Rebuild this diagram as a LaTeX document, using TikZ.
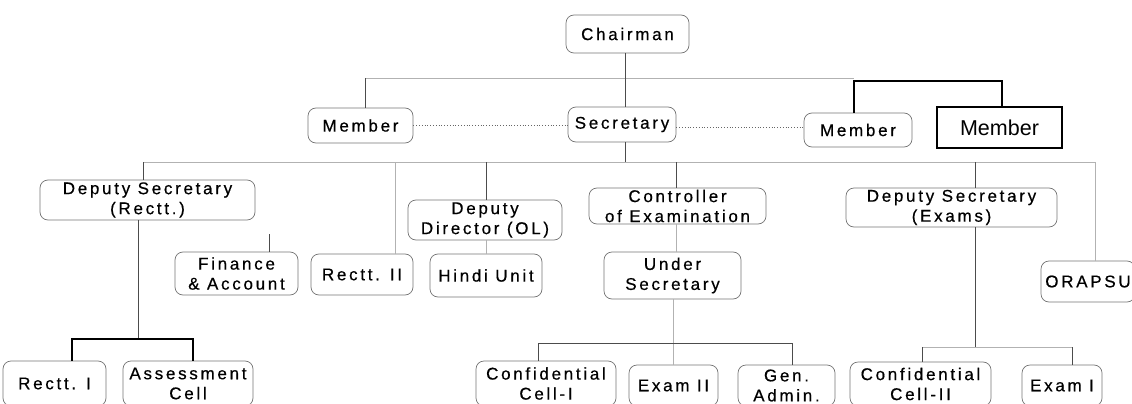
\documentclass[tikz,border=0pt]{standalone}
\usepackage{fontspec}
\setmainfont{Liberation Sans}
\newfontfamily\boxfont{Liberation Sans}[LetterSpace=16,FakeBold=0.5]
\begin{document}
\begin{tikzpicture}[x=1pt,y=-1pt,
  box/.style={draw=black!55, line width=0.7pt, rounded corners=8pt, inner sep=0pt, align=center,
    font=\boxfont\fontsize{17}{20}\selectfont, text=black},
  bigbox/.style={draw=black, line width=1.3pt, inner sep=0pt, font=\fontsize{21.5}{24}\selectfont},
  lightline/.style={draw=black!30, line width=0.8pt},
  darkline/.style={draw=black!70, line width=0.8pt},
  blackline/.style={draw=black, line width=1.2pt},
  dotline/.style={draw=black!60, line width=0.8pt, dotted}
]
\useasboundingbox (0,0) rectangle (1132,404);
% nodes
\node[box, minimum width=123pt, minimum height=38pt] (chair) at (627.5,34) {Chairman};
\node[box, minimum width=105pt, minimum height=35pt] (mem1) at (360.5,125.5) {Member};
\node[box, minimum width=108pt, minimum height=35pt] (sec) at (622,124.5) {Secretary};
\node[box, minimum width=108pt, minimum height=34pt] (mem2) at (858,130) {Member};
\node[bigbox, minimum width=125pt, minimum height=41pt] (mem3) at (999.5,127.5) {Member};
\node[box, minimum width=215pt, minimum height=40pt] (dsr) at (147.5,200) {Deputy Secretary\\(Rectt.)};
\node[box, minimum width=123pt, minimum height=43pt] (fin) at (236.5,273.5) {Finance\\\& Account};
\node[box, minimum width=102pt, minimum height=41pt] (r2) at (362,274.5) {Rectt. II};
\node[box, minimum width=154pt, minimum height=40pt] (ddol) at (485,220) {Deputy\\Director (OL)};
\node[box, minimum width=112pt, minimum height=43pt] (hindi) at (486,275.5) {Hindi Unit};
\node[box, minimum width=177pt, minimum height=36pt] (coe) at (677.5,206) {Controller\\of Examination};
\node[box, minimum width=137pt, minimum height=47pt] (us) at (672.5,275.5) {Under\\Secretary};
\node[box, minimum width=211pt, minimum height=39pt] (dse) at (951.5,207.5) {Deputy Secretary\\(Exams)};
\node[box, minimum width=94pt, minimum height=41pt] (orapsu) at (1088,281.5) {ORAPSU};
\node[box, minimum width=103pt, minimum height=45pt] (r1) at (54.5,383.5) {Rectt. I};
\node[box, minimum width=130pt, minimum height=45pt] (ac) at (188,383.5) {Assessment\\Cell};
\node[box, minimum width=140pt, minimum height=45pt] (cc1) at (546,383.5) {Confidential\\Cell-I};
\node[box, minimum width=89pt, minimum height=41pt] (e2) at (673.5,385.5) {Exam II};
\node[box, minimum width=97pt, minimum height=41pt] (ga) at (786.5,385.5) {Gen.\\Admin.};
\node[box, minimum width=141pt, minimum height=44pt] (cc2) at (920.5,384) {Confidential\\Cell-II};
\node[box, minimum width=80pt, minimum height=41pt] (e1) at (1062,385.5) {Exam I};
% junction coordinates
\coordinate (spine) at (625,0);
\coordinate (tL) at (365,78);
\coordinate (tM) at (854,78);
\coordinate (bL) at (854,81);
\coordinate (bR) at (1002,81);
\coordinate (hL) at (143,162);
\coordinate (hR) at (1095,162);
\coordinate (xr2) at (395,0);
\coordinate (xdd) at (486,0);
\coordinate (xco) at (676,0);
\coordinate (xde) at (975,0);
\coordinate (dsrx) at (138,339);
\coordinate (dsl) at (72,339);
\coordinate (dsr2) at (193,339);
\coordinate (fstub) at (269,234);
\coordinate (usx) at (673,343);
\coordinate (usl) at (538,343);
\coordinate (usr) at (792,343);
\coordinate (dex) at (975,347);
\coordinate (del) at (922,347);
\coordinate (der) at (1072,347);
% top level
\draw[lightline] (tL) -- (tM);
\draw[darkline] (tL) -- (mem1.north -| tL);
\draw[blackline] (mem2.north -| bL) -- (bL) -- (bR) -- (mem3.north -| bR);
\draw[darkline] (chair.south -| spine) -- (sec.north -| spine);
\draw[dotline] (mem1.east) -- (mem1.east -| sec.west);
\draw[dotline] (sec.east |- 0,127) -- (mem2.west |- 0,127);
% second level
\draw[lightline] (hL) -- (hR);
\draw[darkline] (sec.south -| spine) -- (spine |- hL);
\draw[darkline] (hL) -- (dsr.north -| hL);
\draw[lightline] (xr2 |- hL) -- (r2.north -| xr2);
\draw[darkline] (xdd |- hL) -- (ddol.north -| xdd);
\draw[darkline] (xco |- hL) -- (coe.north -| xco);
\draw[darkline] (xde |- hL) -- (dse.north -| xde);
\draw[lightline] (hR) -- (orapsu.north -| hR);
% Deputy Secretary (Rectt.)
\draw[darkline] (dsr.south -| dsrx) -- (dsrx);
\draw[blackline] (r1.north -| dsl) -- (dsl) -- (dsr2) -- (ac.north -| dsr2);
\draw[darkline] (fstub) -- (fin.north -| fstub);
% Deputy Director
\draw[lightline] (ddol.south -| xdd) -- (hindi.north -| xdd);
% Controller
\draw[lightline] (coe.south -| xco) -- (us.north -| xco);
\draw[lightline] (us.south -| usx) -- (e2.north -| usx);
\draw[darkline] (cc1.north -| usl) -- (usl) -- (usr) -- (ga.north -| usr);
% Deputy Secretary (Exams)
\draw[darkline] (dse.south -| dex) -- (dex);
\draw[lightline] (del) -- (der);
\draw[darkline] (del) -- (cc2.north -| del);
\draw[darkline] (der) -- (e1.north -| der);
\end{tikzpicture}
\end{document}
